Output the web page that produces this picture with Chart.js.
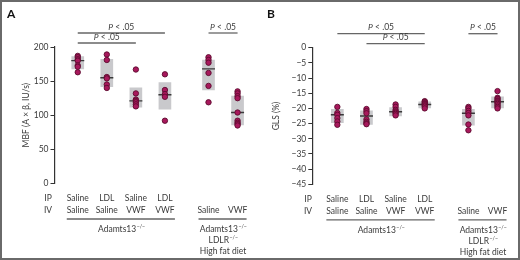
<!DOCTYPE html>
<html>
<head>
<meta charset="utf-8">
<script src="https://cdn.jsdelivr.net/npm/chart.js@4.4.1/dist/chart.umd.min.js"></script>
<style>
html,body{margin:0;padding:0;background:#fff;}
#frame{position:absolute;left:0;top:0;width:516px;height:256px;border:2px solid #6a6a6a;}
.panel{position:absolute;top:0;width:260px;height:260px;}
#pa{left:0;} #pb{left:260px;}
</style>
</head>
<body>
<div id="frame"></div>
<div class="panel" id="pa"><canvas id="ca" width="260" height="260"></canvas></div>
<div class="panel" id="pb"><canvas id="cb" width="260" height="260"></canvas></div>
<script>
// ---- data ----
const ipLabels = ["Saline", "LDL", "Saline", "LDL", "", ""];
const ivLabels = ["Saline", "Saline", "VWF", "VWF", "Saline", "VWF"];
const xPos = [0, 1, 2, 3, 4.5, 5.5];

const mbfPoints = [
  [187, 185, 182, 180, 173, 171, 163],
  [189, 181, 156, 154, 145, 140],
  [167, 132, 123, 121, 119, 116, 113],
  [160, 137, 131, 127, 92],
  [185, 181, 177, 162, 143, 119],
  [135, 132, 128, 125, 104, 92, 89, 87, 85]
];
const mbfMedian = [180, 155, 121, 130, 168, 104];
const mbfBoxLo = [168, 142, 112, 109, 137, 86];
const mbfBoxHi = [186, 182, 140, 148, 181, 128];
const mbfTicks = [0, 50, 100, 150, 200];

const glsPoints = [
  [-19.5, -21.5, -22.1, -23.2, -24.3, -25.4],
  [-20.2, -20.9, -21.6, -23.6, -24.4, -24.9, -25.2],
  [-18.7, -19.5, -20.5, -21.0, -21.4, -21.8, -22.3],
  [-17.6, -17.9, -18.3, -18.6, -19.0, -19.4, -20.0],
  [-19.5, -20.0, -20.8, -21.5, -22.3, -25.3, -27.2],
  [-14.3, -16.5, -16.9, -17.4, -17.7, -18.1, -18.5, -19.0, -19.5, -20.0]
];
const glsMedian = [-22.1, -22.5, -21.1, -18.7, -21.6, -17.8];
const glsBoxLo = [-24.7, -25.3, -22.5, -19.8, -25.5, -19.8];
const glsBoxHi = [-20.3, -20.8, -19.7, -17.8, -20.3, -16.2];
const glsTicks = [0, -5, -10, -15, -20, -25, -30, -35, -40, -45];

// significance: [fromGroup, toGroup, level(0 top,1 lower)]
const sigA = [[0, 3, 0], [0, 2, 1], [4, 5, 0]];
const sigB = [[0, 3, 0], [1, 3, 1], [4, 5, 0]];
const sigText = ".05";

// ---- drawing ----
const FONT = "Lato, 'Liberation Sans', sans-serif";
const TXT = "#3a3a3a";
const LINE = "#666";

function supText(ctx, base, sup, x, y, size) {
  ctx.font = size + "px " + FONT;
  const w1 = ctx.measureText(base).width;
  ctx.font = (size * 0.62) + "px " + FONT;
  const w2 = ctx.measureText(sup).width;
  const start = x - (w1 + w2) / 2;
  ctx.textAlign = "left";
  ctx.font = size + "px " + FONT;
  ctx.fillText(base, start, y);
  ctx.font = (size * 0.62) + "px " + FONT;
  ctx.fillText(sup, start + w1 + 0.5, y - size * 0.35);
}

function makePlugin(letter, yTitle, titleX, sig) {
  return {
    id: "deco",
    afterDraw(chart) {
      const ctx = chart.ctx;
      const xs = chart.scales.x;
      const ca = chart.chartArea;
      const px = i => xs.getPixelForValue(xPos[i]);
      ctx.save();
      ctx.fillStyle = "#111";
      ctx.font = "bold 12px " + FONT;
      ctx.textAlign = "left"; ctx.textBaseline = "middle";
      ctx.fillText(letter, 7, 14);

      // y title
      ctx.fillStyle = TXT;
      ctx.font = "8.5px " + FONT;
      ctx.save();
      ctx.translate(titleX, (ca.top + ca.bottom) / 2);
      ctx.rotate(-Math.PI / 2);
      ctx.textAlign = "center";
      ctx.fillText(yTitle, 0, 0);
      ctx.restore();

      // category rows
      ctx.font = "8.5px " + FONT;
      ctx.textAlign = "center"; ctx.textBaseline = "middle";
      const yIP = ca.bottom + 15, yIV = ca.bottom + 27;
      ctx.fillText("IP", 48, yIP);
      ctx.fillText("IV", 48, yIV);
      for (let i = 0; i < xPos.length; i++) {
        if (ipLabels[i]) ctx.fillText(ipLabels[i], px(i), yIP);
        if (ivLabels[i]) ctx.fillText(ivLabels[i], px(i), yIV);
      }
      // group underlines
      ctx.strokeStyle = LINE; ctx.lineWidth = 1.3;
      const yG = ca.bottom + 35.5;
      ctx.beginPath();
      ctx.moveTo(px(0) - 11, yG); ctx.lineTo(px(3) + 10, yG);
      ctx.moveTo(px(4) - 10, yG); ctx.lineTo(px(5) + 9, yG);
      ctx.stroke();
      const g1c = (px(0) + px(3)) / 2, g2c = (px(4) + px(5)) / 2;
      supText(ctx, "Adamts13", "\u2212/\u2212", g1c, ca.bottom + 45.5, 8.5);
      supText(ctx, "Adamts13", "\u2212/\u2212", g2c, ca.bottom + 45.5, 8.5);
      supText(ctx, "LDLR", "\u2212/\u2212", g2c, ca.bottom + 56.5, 8.5);
      ctx.font = "8.5px " + FONT; ctx.textAlign = "center";
      ctx.fillText("High fat diet", g2c, ca.bottom + 67.5);

      // significance
      sig.forEach(s => {
        const yl = ca.top - 14 + s[2] * 10;
        const x1 = px(s[0]), x2 = px(s[1]);
        ctx.strokeStyle = LINE; ctx.lineWidth = 1.3;
        ctx.beginPath(); ctx.moveTo(x1, yl); ctx.lineTo(x2, yl); ctx.stroke();
        const mid = (x1 + x2) / 2;
        ctx.fillStyle = TXT;
        ctx.font = "italic 8.5px " + FONT;
        const p = "P";
        ctx.textAlign = "left";
        const wP = ctx.measureText(p).width;
        ctx.font = "8.5px " + FONT;
        const rest = " < " + sigText;
        const wR = ctx.measureText(rest).width;
        const st = mid - (wP + wR) / 2;
        ctx.font = "italic 8.5px " + FONT;
        ctx.fillText(p, st, yl - 6);
        ctx.font = "8.5px " + FONT;
        ctx.fillText(rest, st + wP, yl - 6);
      });
      ctx.restore();
    }
  };
}

function buildChart(id, cfg) {
  const pts = [];
  cfg.points.forEach((arr, i) => arr.forEach(v => pts.push({x: xPos[i], y: v})));
  const med = cfg.median.map((v, i) => ({x: xPos[i], y: v}));
  const box = cfg.lo.map((v, i) => ({x: xPos[i], y: [v, cfg.hi[i]]}));
  return new Chart(document.getElementById(id), {
    type: "bar",
    data: {
      datasets: [
        {type: "scatter", data: pts, pointRadius: 2.7, pointBackgroundColor: "#a8185c",
         pointBorderColor: "#5c0b2f", pointBorderWidth: 0.9, order: 0},
        {type: "scatter", data: med, pointStyle: "line", pointRadius: 6.5,
         pointBorderColor: "#3a3a3a", pointBorderWidth: 1.4, order: 1},
        {type: "bar", data: box, backgroundColor: "#c9c9cc", barThickness: 12,
         borderWidth: 0, order: 2}
      ]
    },
    options: {
      responsive: false, animation: false, devicePixelRatio: 1,
      layout: {padding: {left: 0, right: cfg.padRight, top: cfg.padTop, bottom: cfg.padBottom}},
      plugins: {legend: {display: false}, tooltip: {enabled: false}},
      scales: {
        x: {type: "linear", display: false, min: cfg.xMin, max: 6.0, offset: false},
        y: {
          min: cfg.yMin, max: cfg.yMax,
          afterFit(s) { s.width = cfg.axisLeft; },
          afterBuildTicks(s) { s.ticks = cfg.ticks.map(v => ({value: v})); },
          grid: {drawOnChartArea: false, tickLength: 4, color: "#333", lineWidth: 1},
          border: {display: true, color: "#333", width: 1.2},
          ticks: {font: {size: 8.5, family: FONT}, color: TXT, padding: 2,
                  callback: v => String(v).replace("-", "\u2212")}
        }
      }
    },
    plugins: [makePlugin(cfg.letter, cfg.title, cfg.titleX, cfg.sig)]
  });
}

buildChart("ca", {
  points: mbfPoints, median: mbfMedian, lo: mbfBoxLo, hi: mbfBoxHi, ticks: mbfTicks,
  yMin: 0, yMax: 200, axisLeft: 54.5, padTop: 47, padBottom: 76.5, padRight: 5.5,
  xMin: -0.8, letter: "A", title: "MBF (A \u00d7 \u03b2, IU/s)", titleX: 26, sig: sigA
});
buildChart("cb", {
  points: glsPoints, median: glsMedian, lo: glsBoxLo, hi: glsBoxHi, ticks: glsTicks,
  yMin: -45, yMax: 0, axisLeft: 52.3, padTop: 47.7, padBottom: 75.7, padRight: 5.5,
  xMin: -0.86, letter: "B", title: "GLS (%)", titleX: 16, sig: sigB
});
</script>
</body>
</html>
